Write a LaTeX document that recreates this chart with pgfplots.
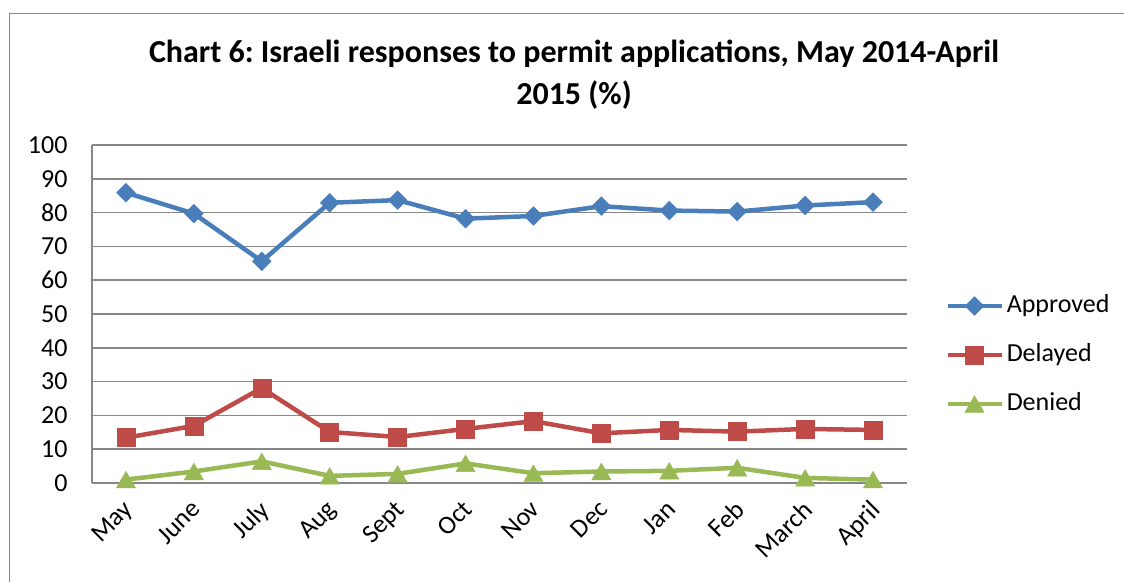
\documentclass[border=0pt]{standalone}
\usepackage{pgfplots}
\pgfplotsset{compat=1.18}
\usepackage{fontspec}
\setmainfont{Carlito}
\frenchspacing
\definecolor{cblue}{HTML}{4A7EBB}
\definecolor{cred}{HTML}{BE4B48}
\definecolor{cgreen}{HTML}{98B954}
\definecolor{cgrid}{HTML}{878787}
\begin{document}
\begin{tikzpicture}[x=1pt,y=1pt]
\useasboundingbox (0,0) rectangle (1124,581);
\draw[cgrid, line width=1.5pt] (9.5,-5) -- (9.5,567.5) -- (1130,567.5);
\node[font=\fontsize{32}{42}\selectfont\bfseries, align=center] at (574,506) {Chart 6: Israeli responses to permit applications, May 2014-April\\2015 (\%)};
\begin{axis}[
  at={(92pt,98pt)}, anchor=south west, scale only axis,
  width=815pt, height=338pt,
  xmin=-0.5, xmax=11.5, ymin=0, ymax=100,
  ytick={0,10,...,100},
  xtick={0,...,11},
  xticklabels={May,June,July,Aug,Sept,Oct,Nov,Dec,Jan,Feb,March,April},
  axis x line*=bottom, axis y line*=left,
  axis line style={cgrid, line width=1.5pt},
  ymajorgrids, grid style={cgrid, line width=1.5pt},
  major tick length=0pt,
  /pgf/number format/assume math mode=true,
  ticklabel style={font=\fontsize{26}{30}\selectfont},
  yticklabel style={xshift=-21pt},
  xticklabel style={xshift=-4pt, yshift=-11pt, rotate=45, anchor=north east},
  legend style={at={(1.043,0.3787)}, anchor=west, draw=none, fill=none,
    font=\fontsize{26}{30}\selectfont,
    nodes={text height=18pt, text depth=6pt, inner sep=0pt},
    row sep=25pt},
  legend cell align=left,
  legend image code/.code={\draw[mark repeat=2,mark phase=2,#1] plot coordinates {(0pt,0pt) (27pt,0pt) (54pt,0pt)}; \path (57pt,0pt);},
  clip=false,
]
\addplot[cblue, line width=4.5pt, mark=square*, mark size=6.6pt, mark options={rotate=45, line width=0.5pt, fill=cblue}] coordinates {
(0,85.9) (1,79.7) (2,65.6) (3,82.9) (4,83.7) (5,78.2) (6,79.0) (7,81.9) (8,80.6) (9,80.3) (10,82.1) (11,83.1)};
\addlegendentry{Approved}
\addplot[cred, line width=4.5pt, mark=square*, mark size=9pt, mark options={line width=0.5pt, fill=cred}] coordinates {
(0,13.4) (1,16.9) (2,28.1) (3,15.1) (4,13.6) (5,16.0) (6,18.3) (7,14.7) (8,15.7) (9,15.2) (10,16.0) (11,15.7)};
\addlegendentry{Delayed}
\addplot[cgreen, line width=4.5pt, mark=triangle*, mark size=11pt, mark options={line width=0.5pt, fill=cgreen, yshift=-2.75pt}] coordinates {
(0,1.0) (1,3.4) (2,6.4) (3,2.1) (4,2.7) (5,5.8) (6,2.9) (7,3.4) (8,3.6) (9,4.5) (10,1.5) (11,1.0)};
\addlegendentry{Denied}
\end{axis}
\end{tikzpicture}
\end{document}
